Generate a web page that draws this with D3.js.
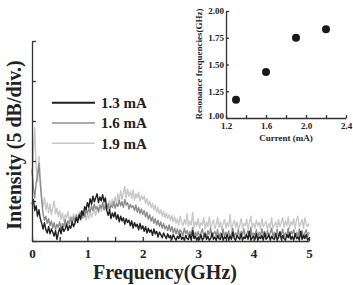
<!DOCTYPE html>
<html>
<head>
<meta charset="utf-8">
<script src="https://cdn.jsdelivr.net/npm/d3@7"></script>
<style>
  body { margin: 0; background: #fff; }
  svg text { font-family: "Liberation Serif", "Times New Roman", serif; font-weight: bold; fill: #222; }
</style>
</head>
<body>
<svg id="chart" width="353" height="285"></svg>
<script>
// ---- data ----
// spectra sampled every 0.025 GHz from 0 to 5 GHz (20 points per row = 0.5 GHz),
// values in dB above the bottom of the axis
var freqStep = 0.025;
var seriesNames = ['1.3 mA', '1.6 mA', '1.9 mA'];
var seriesColors = ['#1e1e1e', '#8c8c8c', '#c8c8c8'];

var spec13 = [
  4.6,5.2,3.8,4.4,3.1,3.9,2.8,2.2,1.5,2.3,1.4,1.0,1.8,0.9,1.5,1.1,0.6,1.3,0.2,1.0,
  1.6,0.9,1.8,1.2,1.5,2.1,1.3,1.9,1.6,2.4,1.8,2.2,2.9,2.3,3.3,2.7,3.8,3.2,4.3,3.9,
  4.8,4.2,5.3,4.6,5.6,4.9,5.4,5.9,4.8,5.5,5.0,5.8,4.9,5.4,3.8,3.2,3.9,2.8,3.5,3.0,
  3.6,2.7,3.3,2.4,3.1,2.5,2.9,2.1,2.8,2.3,2.6,1.9,2.5,1.6,2.3,1.8,2.1,1.4,2.2,1.5,
  1.9,1.2,1.8,1.0,1.6,1.1,1.4,0.7,1.5,0.9,1.2,0.5,1.1,0.8,0.4,1.0,0.6,0.3,0.9,0.4,
  0.7,0.2,0.8,0.4,0.1,0.6,0.3,0.9,0.2,0.5,0.1,0.7,0.3,0.2,0.8,0.1,1.3,0.3,0.6,0.1,
  0.5,0.2,0.8,0.1,0.4,0.9,0.2,0.6,0.1,0.3,1.0,0.2,0.5,0.1,0.7,0.3,0.2,0.9,0.1,0.5,
  0.3,0.8,0.1,0.6,0.2,1.1,0.3,0.1,0.7,0.4,0.2,0.9,0.1,0.5,0.3,0.8,0.2,1.2,0.1,0.4,
  0.6,0.2,0.9,0.1,0.5,0.3,0.7,0.1,1.0,0.2,0.4,0.8,0.1,0.6,0.3,0.2,0.9,0.1,0.5,1.1,
  0.2,0.7,0.3,0.1,0.8,0.4,1.0,0.2,0.6,0.1,0.9,0.3,0.5,0.1,1.2,0.2,0.7,0.3,0.8,0.1,
  0.4];

var spec16 = [
  9.0,6.8,5.4,7.2,8.3,9.7,7.1,5.0,3.4,2.6,3.1,2.2,2.8,1.9,2.5,1.6,2.3,1.4,2.1,1.7,
  2.4,1.5,2.2,1.8,2.7,1.9,2.5,2.1,2.9,2.2,3.0,2.4,3.3,2.6,3.1,3.6,2.8,3.5,3.0,3.9,
  3.4,4.1,3.6,4.4,3.8,4.6,4.0,4.3,3.7,4.5,4.1,4.8,3.9,4.4,4.0,4.7,3.8,4.5,4.2,4.9,
  4.1,4.7,4.3,5.1,4.4,4.9,4.2,5.2,4.5,4.8,4.0,4.6,4.2,4.4,3.8,4.5,3.6,4.2,3.4,4.0,
  3.3,3.8,3.0,3.6,2.7,3.3,2.5,3.0,2.2,2.8,2.0,2.6,1.8,2.4,1.6,2.2,1.5,1.9,1.3,2.0,
  1.2,1.8,1.0,1.6,0.9,1.5,0.8,1.4,1.1,0.7,1.6,0.9,1.3,0.6,1.2,0.8,1.7,0.5,1.1,0.7,
  1.2,0.5,1.0,1.5,0.6,1.1,0.4,1.3,0.8,1.6,0.5,0.9,1.2,0.6,1.4,0.4,1.0,0.7,1.5,0.5,
  1.1,0.6,1.3,0.4,0.9,1.6,0.5,1.0,0.7,1.4,0.4,1.2,0.8,1.5,0.5,0.9,1.3,0.6,1.7,0.5,
  1.0,0.7,1.4,0.4,1.1,0.6,1.5,0.8,1.2,0.4,1.3,0.7,1.0,1.6,0.5,1.1,0.6,1.4,0.4,1.2,
  0.8,1.5,0.5,1.0,0.7,1.6,0.4,1.2,0.9,1.4,0.6,1.1,0.5,1.5,0.8,1.3,0.4,1.0,1.4,0.6,
  1.1];

var spec19 = [
  8.2,11.0,14.2,9.1,7.4,10.6,8.0,5.6,4.3,5.4,3.9,4.8,3.5,4.6,3.3,4.2,5.0,3.4,4.1,3.0,
  3.8,2.7,3.5,2.5,3.3,2.9,3.7,2.4,3.1,2.6,3.4,2.3,3.0,2.8,3.6,2.5,3.2,2.9,3.8,2.6,
  3.4,2.8,3.7,3.0,3.5,3.9,3.2,4.1,3.5,4.4,3.7,4.2,4.8,3.9,4.6,4.1,5.0,4.3,5.2,4.5,
  5.5,4.7,5.9,5.0,6.3,5.2,6.0,6.8,5.4,6.5,5.6,6.2,5.3,6.4,5.1,5.9,5.4,6.1,5.0,5.7,
  5.2,5.6,4.7,5.3,4.4,5.0,4.2,4.7,3.9,4.5,3.6,4.2,3.4,3.9,3.1,3.7,2.9,3.5,2.8,3.3,
  2.6,3.2,2.4,3.0,2.2,2.8,2.0,3.1,2.3,1.9,2.7,2.1,3.4,1.8,2.5,2.0,3.6,1.7,2.4,1.9,
  2.8,1.6,2.3,2.0,2.9,1.5,2.4,1.8,3.0,1.6,2.2,2.6,1.5,2.1,2.9,1.7,2.4,1.4,2.2,2.7,
  1.6,2.3,1.8,3.3,1.5,2.1,2.6,1.7,2.4,1.4,2.0,2.8,1.6,2.2,1.9,2.7,1.5,2.3,3.1,1.7,
  2.2,1.6,2.6,1.9,2.3,1.5,2.8,1.8,2.1,2.5,1.4,2.2,1.7,2.9,1.6,2.0,2.4,1.5,2.7,1.8,
  2.3,2.9,1.7,2.5,1.9,3.0,1.6,2.4,2.0,2.8,1.5,2.6,3.1,1.8,2.2,2.7,1.6,2.9,2.1,1.8,
  2.2];

// inset: resonance frequency vs current
var insetCurrent = [1.3, 1.6, 1.9, 2.2];
var insetFreq = [1.17, 1.43, 1.75, 1.83];

var xTickLabels = [0, 1, 2, 3, 4, 5];
var insetYTicks = [1.00, 1.25, 1.50, 1.75, 2.00];
var insetXTicks = [1.2, 1.6, 2.0, 2.4];

// ---- main chart ----
var svg = d3.select('svg#chart');
var axisColor = '#333';

var xScale = d3.scaleLinear().domain([0, 5]).range([32, 309]);
var yScale = d3.scaleLinear().domain([0, 25]).range([241, 41]);

var allSeries = [spec13, spec16, spec19];

var line = d3.line()
  .x(function(d, i) { return xScale(i * freqStep); })
  .y(function(d) { return yScale(d); });

var g_lines = svg.append('g').attr('class', 'lines');
// lightest first so the dark trace sits on top
[2, 1, 0].forEach(function(k) {
  g_lines.append('path')
    .attr('d', line(allSeries[k]))
    .style('fill', 'none')
    .style('stroke', seriesColors[k])
    .style('stroke-width', 1.4)
    .style('stroke-linejoin', 'round');
});

var axis_bottom = d3.axisBottom(xScale)
  .tickValues(d3.range(0, 5.01, 0.5))
  .tickSizeInner(-4).tickSizeOuter(0).tickPadding(8)
  .tickFormat(function(d) { return xTickLabels.indexOf(d) >= 0 ? d : ''; });

svg.append('g')
  .attr('class', 'axis axis--x')
  .attr('transform', 'translate(0,241)')
  .call(axis_bottom)
  .selectAll('text').style('font-size', '13px').style('fill', '#222');

var axis_left = d3.axisLeft(yScale)
  .tickValues([0, 5, 10, 15, 20, 25])
  .tickSizeInner(-4).tickSizeOuter(0)
  .tickFormat('');

svg.append('g')
  .attr('class', 'axis axis--y')
  .attr('transform', 'translate(32,0)')
  .call(axis_left);

svg.append('text')
  .attr('x', xScale(2.4)).attr('y', 279)
  .attr('text-anchor', 'middle')
  .style('font-size', '20px')
  .text('Frequency(GHz)');

svg.append('text')
  .attr('transform', 'translate(21,145) rotate(-90)')
  .attr('text-anchor', 'middle')
  .style('font-size', '20px')
  .text('Intensity (5 dB/div.)');

// legend
var legendY = d3.scaleLinear().domain([0, 2]).range([102.7, 143.3]);
var legend = svg.append('g').attr('class', 'legend');
seriesNames.forEach(function(name, i) {
  legend.append('line')
    .attr('x1', 52).attr('x2', 95)
    .attr('y1', legendY(i)).attr('y2', legendY(i))
    .style('stroke', seriesColors[i])
    .style('stroke-width', i == 0 ? 2 : 1.6);
  legend.append('text')
    .attr('x', 101).attr('y', legendY(i)).attr('dy', '0.35em')
    .style('font-size', '15px')
    .text(name);
});

// ---- inset ----
var ix = d3.scaleLinear().domain([1.2, 2.4]).range([226, 346]);
var iy = d3.scaleLinear().domain([1.0, 2.0]).range([118, 11]);

var inset = svg.append('g').attr('class', 'inset');

inset.append('g')
  .attr('class', 'axis axis--x')
  .attr('transform', 'translate(0,118)')
  .call(d3.axisBottom(ix)
    .tickValues([1.2, 1.4, 1.6, 1.8, 2.0, 2.2, 2.4])
    .tickSizeInner(-3).tickSizeOuter(0).tickPadding(5)
    .tickFormat(function(d) { return insetXTicks.some(function(t) { return Math.abs(t - d) < 1e-6; }) ? d3.format('.1f')(d) : ''; }))
  .selectAll('text').style('font-size', '9px').style('fill', '#222');

inset.append('g')
  .attr('class', 'axis axis--y')
  .attr('transform', 'translate(226,0)')
  .call(d3.axisLeft(iy)
    .tickValues(insetYTicks)
    .tickSizeInner(-3).tickSizeOuter(0).tickPadding(2)
    .tickFormat(d3.format('.2f')))
  .selectAll('text').style('font-size', '9px').style('fill', '#222')
  .attr('dy', function(d) { return d === 1 ? '0.1em' : '0.32em'; });

inset.selectAll('circle.pt')
  .data(insetCurrent)
  .enter()
  .append('circle')
  .attr('class', 'pt')
  .attr('cx', function(d) { return ix(d); })
  .attr('cy', function(d, i) { return iy(insetFreq[i]); })
  .attr('r', 4)
  .style('fill', '#1a1a1a');

inset.append('text')
  .attr('x', ix(1.8)).attr('y', 141)
  .attr('text-anchor', 'middle')
  .style('font-size', '9px')
  .text('Current (mA)');

inset.append('text')
  .attr('transform', 'translate(202,64) rotate(-90)')
  .attr('text-anchor', 'middle')
  .style('font-size', '9px')
  .text('Resonance frequencies(GHz)');

svg.selectAll('g.axis path, g.axis line').style('stroke', axisColor).style('stroke-width', 1.3);
</script>
</body>
</html>
